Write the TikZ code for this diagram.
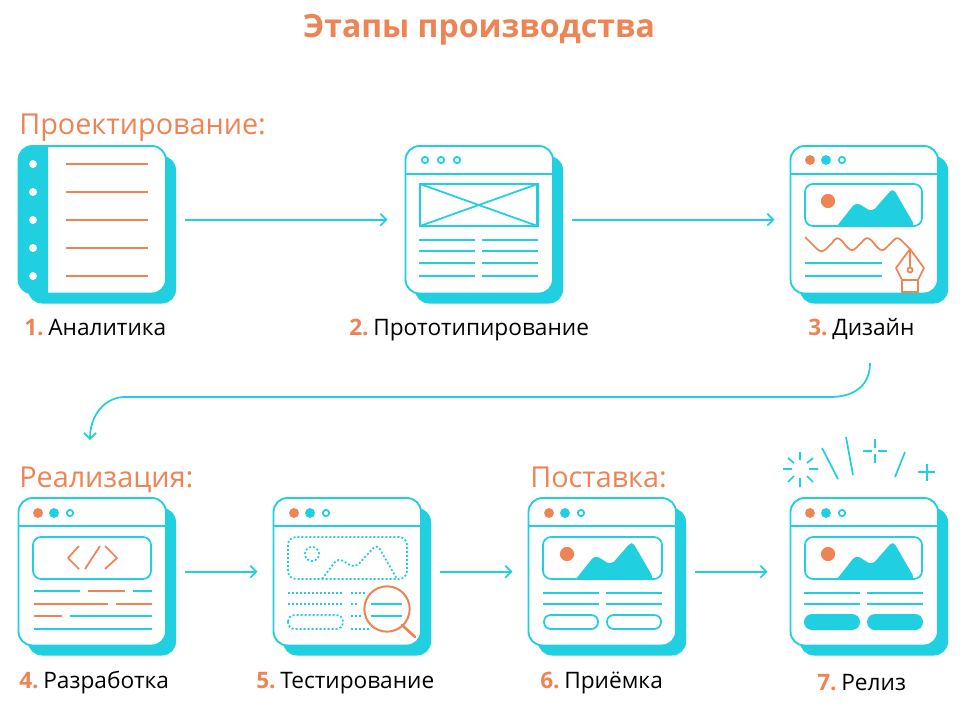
\documentclass[tikz,border=0pt]{standalone}
\usepackage{fontspec}
\setmainfont{Open Sans}
\usetikzlibrary{arrows.meta}
\definecolor{cy}{HTML}{20CFE0}
\definecolor{og}{HTML}{EE8354}
\tikzset{
 x=0.75pt,y=-0.75pt,
 cl/.style={draw=cy,line width=1.3pt},
 ol/.style={draw=og,line width=1.3pt},
 dl/.style={draw=cy,line width=1.3pt,dash pattern=on 1.5pt off 1.5pt},
 win/.style={draw=cy,line width=1.4pt,fill=white,rounded corners=10.5pt,minimum width=110.6pt,minimum height=110.6pt,inner sep=0pt,outer sep=0pt},
 conn/.style={draw=cy,line width=1.3pt,-{Straight Barb[length=4.5pt,width=9pt,line width=1.3pt]}},
 head/.style={text=og,font=\fontsize{21.6}{26}\selectfont,anchor=base west,inner sep=0pt},
 lab/.style={font=\fontsize{17}{20}\selectfont,anchor=base west,inner sep=0pt},
 title/.style={text=og,font=\fontsize{24}{28}\selectfont\bfseries,anchor=base,inner sep=0pt},
}
\newcommand{\onum}[1]{\textcolor{og}{\textbf{#1}}\hspace{-2.4pt}}
% window: name, left, top
\newcommand{\winbase}[3]{%
 \fill[cy,rounded corners=10.5pt] (#2+10,#3+10) rectangle (#2+158,#3+157.5);
 \node[win,anchor=north west] (#1) at (#2+0.5,#3) {};
}
\newcommand{\winhead}[2]{\draw[cl] (#1,#2+28) -- (#1+148,#2+28);}
\newcommand{\mount}[2]{\fill[cy,rounded corners=3.5pt] (#1+47,#2+81) -- (#1+66,#2+57) -- (#1+82,#2+67) -- (#1+103,#2+43) -- (#1+125,#2+81) [sharp corners] -- cycle;}
\begin{document}
\begin{tikzpicture}
\useasboundingbox (0,0) rectangle (964,721);
\fill[white] (0,0) rectangle (964,721);
% Titles
\node[title] (ttl) at (479,37) {Этапы производства};
\node[head] (hproj) at (19,134) {Проектирование:};
\node[head] (hreal) at (19,487) {Реализация:};
\node[head] (hpost) at (530,487) {Поставка:};
% --- w1
\winbase{w1}{18}{146}
\fill[cy,rounded corners=10.5pt] (18,146) -- (48,146) [sharp corners] -- (48,293) [rounded corners=10.5pt] -- (18,293) -- cycle;
\fill[cy] (30,146) rectangle (48,293);
\foreach \yy in {18,46,74,102,130}{
 \fill[white] (33,146+\yy) circle (3pt);
 \draw[ol] (66,146+\yy) -- (148,146+\yy);
}
% --- w2
\winbase{w2}{405}{146}
\winhead{405}{146}
\foreach \xx in {20,36,52} \draw[cl] (405+\xx,160) circle (2.4pt);
\draw[cl,line width=1.6pt] (420,184) rectangle (537.5,226);
\draw[cl] (420,184) -- (537.5,226) (420,226) -- (537.5,184);
\foreach \yy in {94,105,117,130}{
 \draw[cl] (419,146+\yy) -- (475,146+\yy);
 \draw[cl] (482,146+\yy) -- (538,146+\yy);
}
% --- w3
\winbase{w3}{790}{146}
\winhead{790}{146}
\fill[og] (810,160) circle (3.7pt);
\fill[cy] (826,160) circle (3.7pt);
\draw[cl] (842,160) circle (2.4pt);
\draw[cl,rounded corners=6pt] (805,184) rectangle (922,226);
\fill[og] (828,201) circle (5.3pt);
\mount{790}{145}
\draw[ol,line join=round] (805,237) -- (817,249) .. controls (821,252) and (822,252) .. (826,249)
 -- (832,243) .. controls (836,237) and (838,237) .. (842,241) -- (847,247) .. controls (851,251) and (853,251) .. (856,248)
 -- (862,242) .. controls (866,237) and (868,237) .. (872,241) -- (877,247) .. controls (881,251) and (883,251) .. (886,248)
 -- (892,242) .. controls (896,237) and (898,237) .. (902,241) -- (910,249);
\draw[cl] (805,263) -- (882,263) (805,276) -- (882,276);
\draw[ol,fill=white,line join=round] (910,249) -- (924,268) -- (918,280) -- (902,280) -- (896,268) -- cycle;
\draw[ol] (910,249) -- (910,268);
\draw[ol,fill=white] (910,270) circle (1.9pt);
\draw[ol,fill=white] (902,280) rectangle (918,292);
% --- w4
\winbase{w4}{18}{498}
\winhead{18}{498}
\fill[og] (38,513) circle (3.7pt);
\fill[cy] (54,513) circle (3.7pt);
\draw[cl] (70,513) circle (2.4pt);
\draw[cl,rounded corners=6pt] (33,537) rectangle (151,579);
\draw[ol,line join=round] (79,546) -- (68,558) -- (79,569);
\draw[ol] (100,546) -- (85,569);
\draw[ol,line join=round] (105,546) -- (117,558) -- (105,569);
\draw[cl] (34,591) -- (80,591);
\draw[ol] (88,591) -- (125,591);
\draw[cl] (133,591) -- (152,591);
\draw[ol] (34,604) -- (108,604);
\draw[ol] (116,604) -- (152,604);
\draw[ol] (34,616) -- (62,616);
\draw[cl] (70,616) -- (152,616);
\draw[cl] (34,629) -- (152,629);
% --- w5
\winbase{w5}{273}{498}
\winhead{273}{498}
\fill[og] (294,513) circle (3.7pt);
\fill[cy] (310,513) circle (3.7pt);
\draw[cl] (326,513) circle (2.4pt);
\draw[dl,rounded corners=6pt] (288,537) rectangle (407,579);
\draw[dl] (312,554) circle (5.3pt);
\draw[dl,rounded corners=4pt] (322,579) -- (338,558) -- (355,568) -- (377,544) -- (397,579);
\draw[dl] (288,593) -- (344,593);
\draw[dl] (351,593) -- (367,593);
\draw[dl] (288,604) -- (344,604);
\draw[dl] (351,604) -- (358,604);
\draw[dl,rounded corners=5pt] (288,615) rectangle (343,629);
\draw[dl] (351,616) -- (361,616);
\draw[dl] (351,629) -- (369,629);
\draw[ol,line width=1.5pt,fill=white] (387,609) circle (17pt);
\draw[cl] (371,604) -- (402,604) (371,616) -- (402,616);
\draw[ol,line width=2pt,line cap=round] (402,625) -- (415,637);
% --- w6
\winbase{w6}{528}{498}
\winhead{528}{498}
\fill[og] (549,513) circle (3.7pt);
\fill[cy] (565,513) circle (3.7pt);
\draw[cl] (581,513) circle (2.4pt);
\draw[cl,rounded corners=6pt] (543,537) rectangle (662,579);
\fill[og] (567,554) circle (5.3pt);
\mount{529}{498}
\draw[cl] (543,593) -- (599,593) (606,593) -- (662,593) (543,604) -- (599,604) (606,604) -- (662,604);
\draw[cl,rounded corners=5pt] (544,615) rectangle (598,629);
\draw[cl,rounded corners=5pt] (607,615) rectangle (661,629);
% --- w7
\winbase{w7}{790}{498}
\winhead{790}{498}
\fill[og] (810,513) circle (3.7pt);
\fill[cy] (826,513) circle (3.7pt);
\draw[cl] (842,513) circle (2.4pt);
\draw[cl,rounded corners=6pt] (805,537) rectangle (922,579);
\fill[og] (828,554) circle (5.3pt);
\mount{790}{498}
\draw[cl] (804,593) -- (860,593) (867,593) -- (923,593) (804,604) -- (860,604) (867,604) -- (923,604);
\fill[cy,rounded corners=6pt] (804,614) rectangle (860,630);
\fill[cy,rounded corners=6pt] (867,614) rectangle (923,630);
% sparkles
\draw[cl] (800,452) -- (800,460) (800,478) -- (800,487) (783,469) -- (792,469) (809,469) -- (818,469)
 (788,458) -- (794,463) (807,463) -- (813,458) (788,482) -- (794,476) (807,476) -- (813,482);
\draw[cl] (822,448) -- (838,479) (846,437) -- (853,475) (905,452) -- (895,477);
\draw[cl] (863,451) -- (872,451) (878,451) -- (887,451) (875,439) -- (875,448) (875,454) -- (875,463);
\draw[cl] (918,472) -- (935,472) (927,464) -- (927,481);
% connectors
\draw[conn,shorten <=14.25pt,shorten >=13.5pt] (w1.east) -- (w2.west);
\draw[conn,shorten <=14.25pt,shorten >=12pt] (w2.east) -- (w3.west);
\coordinate (c1) at (870,363);
\coordinate (c2) at (90,440);
\draw[conn] (c1) .. controls (870,385) and (855,397) .. (830,397) -- (125,397) .. controls (105,397) and (90,415) .. (c2);
\draw[conn,shorten <=14.25pt,shorten >=12pt] (w4.east) -- (w5.west);
\draw[conn,shorten <=14.25pt,shorten >=12pt] (w5.east) -- (w6.west);
\draw[conn,shorten <=14.25pt,shorten >=17.25pt] (w6.east) -- (w7.west);
% labels
\node[lab] (l1) at (24,335) {\onum{1.} Аналитика};
\node[lab] (l2) at (349,335) {\onum{2.} Прототипирование};
\node[lab] (l3) at (808,335) {\onum{3.} Дизайн};
\node[lab] (l4) at (19,688) {\onum{4.} Разработка};
\node[lab] (l5) at (256,688) {\onum{5.} Тестирование};
\node[lab] (l6) at (540,688) {\onum{6.} Приёмка};
\node[lab] (l7) at (817,690) {\onum{7.} Релиз};
\end{tikzpicture}
\end{document}
